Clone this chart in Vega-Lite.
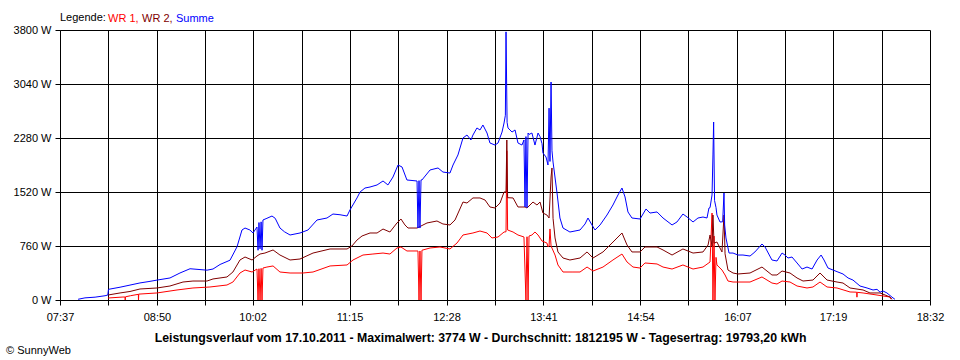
{
  "$schema": "https://vega.github.io/schema/vega-lite/v6.json",
  "width": 870,
  "height": 270,
  "autosize": "none",
  "padding": {"left": 60, "top": 30, "right": 30, "bottom": 60},
  "background": "white",
  "title": {
    "text": "© SunnyWeb",
    "orient": "bottom",
    "anchor": "start",
    "frame": "bounds",
    "font": "Liberation Sans",
    "fontSize": 11,
    "fontWeight": "normal",
    "color": "black",
    "offset": 2,
    "dx": -7
  },
  "datasets": {
    "wr1": [
      {"t":493.1,"p":28},{"t":504.4,"p":42},{"t":506.0,"p":42},{"t":506.1,"p":0},{"t":506.3,"p":45},{"t":510,"p":60},{"t":516.0,"p":80},{"t":516.1,"p":0},{"t":516.3,"p":84},{"t":517.2,"p":84},{"t":530,"p":99},{"t":545.1,"p":141},{"t":557.1,"p":169},{"t":569.9,"p":183},{"t":582.7,"p":211},{"t":587.2,"p":253},{"t":592.5,"p":380},{"t":596.3,"p":422},{"t":601.6,"p":394},{"t":605.3,"p":436},{"t":606.1,"p":0},{"t":606.8,"p":440},{"t":607.6,"p":0},{"t":608.4,"p":445},{"t":609.1,"p":0},{"t":609.8,"p":450},{"t":612.8,"p":464},{"t":617.4,"p":479},{"t":622.6,"p":394},{"t":630.2,"p":380},{"t":639.9,"p":380},{"t":647.5,"p":394},{"t":660.3,"p":479},{"t":673.1,"p":493},{"t":677.6,"p":563},{"t":685.1,"p":633},{"t":692.6,"p":647},{"t":700.2,"p":661},{"t":705.4,"p":647},{"t":710.7,"p":732},{"t":713.7,"p":746},{"t":718.2,"p":690},{"t":726.5,"p":690},{"t":727.3,"p":0},{"t":728.0,"p":690},{"t":728.8,"p":0},{"t":729.5,"p":700},{"t":735.6,"p":732},{"t":743.1,"p":746},{"t":750.6,"p":718},{"t":755.9,"p":802},{"t":760.4,"p":915},{"t":767.9,"p":943},{"t":773.2,"p":971},{"t":778.5,"p":943},{"t":782.2,"p":873},{"t":786.8,"p":887},{"t":791.3,"p":957},{"t":792.8,"p":960},{"t":793.4,"p":2100},{"t":794.0,"p":985},{"t":798.1,"p":957},{"t":801.8,"p":915},{"t":806.3,"p":887},{"t":807.8,"p":0},{"t":808.6,"p":890},{"t":809.4,"p":0},{"t":810.1,"p":900},{"t":812.3,"p":915},{"t":814.6,"p":957},{"t":816.9,"p":915},{"t":819.9,"p":830},{"t":823.6,"p":802},{"t":824.4,"p":750},{"t":825.2,"p":760},{"t":825.9,"p":1000},{"t":826.7,"p":760},{"t":829.7,"p":633},{"t":831.9,"p":493},{"t":835.7,"p":394},{"t":843.2,"p":394},{"t":848.5,"p":394},{"t":853.8,"p":464},{"t":858.3,"p":408},{"t":865.8,"p":464},{"t":873.3,"p":563},{"t":880.1,"p":647},{"t":883.9,"p":535},{"t":888.4,"p":464},{"t":893.7,"p":450},{"t":897.4,"p":521},{"t":906.5,"p":507},{"t":911.0,"p":464},{"t":917.8,"p":436},{"t":926.0,"p":493},{"t":933.6,"p":436},{"t":941.1,"p":464},{"t":946.4,"p":535},{"t":947.9,"p":1224},{"t":948.6,"p":0},{"t":949.4,"p":900},{"t":950.1,"p":0},{"t":950.9,"p":600},{"t":951.6,"p":493},{"t":955.4,"p":422},{"t":957.7,"p":352},{"t":959.9,"p":267},{"t":963.7,"p":253},{"t":967.4,"p":253},{"t":976.5,"p":253},{"t":985.5,"p":324},{"t":993.0,"p":239},{"t":996.8,"p":225},{"t":1000.6,"p":267},{"t":1006.6,"p":253},{"t":1011.9,"p":197},{"t":1019.4,"p":169},{"t":1023.9,"p":183},{"t":1029.2,"p":253},{"t":1034.5,"p":183},{"t":1042.0,"p":169},{"t":1051.8,"p":113},{"t":1056.8,"p":110},{"t":1057.0,"p":40},{"t":1057.2,"p":108},{"t":1061.6,"p":99},{"t":1072.1,"p":70},{"t":1081.9,"p":42},{"t":1082.7,"p":10}
    ],
    "wr2": [
      {"t":493.1,"p":70},{"t":502.2,"p":99},{"t":509.7,"p":120},{"t":517.2,"p":155},{"t":530.0,"p":169},{"t":539.8,"p":197},{"t":549.6,"p":253},{"t":557.1,"p":267},{"t":567.7,"p":267},{"t":572.2,"p":296},{"t":582.7,"p":324},{"t":587.2,"p":394},{"t":592.5,"p":563},{"t":596.3,"p":605},{"t":601.6,"p":563},{"t":605.3,"p":619},{"t":607.6,"p":647},{"t":611.3,"p":661},{"t":617.4,"p":704},{"t":622.6,"p":633},{"t":630.2,"p":563},{"t":637.7,"p":577},{"t":647.5,"p":661},{"t":660.3,"p":718},{"t":673.1,"p":718},{"t":676.8,"p":760},{"t":680.6,"p":844},{"t":684.4,"p":901},{"t":690.4,"p":943},{"t":695.7,"p":943},{"t":700.2,"p":999},{"t":705.4,"p":957},{"t":710.7,"p":1084},{"t":713.7,"p":1140},{"t":716.7,"p":1056},{"t":719.0,"p":1013},{"t":725.8,"p":1013},{"t":733.3,"p":1084},{"t":740.8,"p":1112},{"t":745.3,"p":1070},{"t":750.6,"p":1056},{"t":754.4,"p":1126},{"t":760.4,"p":1379},{"t":763.4,"p":1365},{"t":767.9,"p":1436},{"t":773.2,"p":1436},{"t":777.0,"p":1407},{"t":780.7,"p":1309},{"t":784.5,"p":1295},{"t":788.3,"p":1365},{"t":791.3,"p":1520},{"t":792.8,"p":1520},{"t":793.4,"p":2252},{"t":794.0,"p":1440},{"t":798.1,"p":1436},{"t":801.8,"p":1309},{"t":807.1,"p":1309},{"t":808.6,"p":1295},{"t":813.1,"p":1379},{"t":816.1,"p":1337},{"t":818.4,"p":1379},{"t":820.6,"p":1224},{"t":823.6,"p":1196},{"t":825.2,"p":1154},{"t":826.7,"p":1731},{"t":827.4,"p":1858},{"t":828.2,"p":1150},{"t":829.7,"p":873},{"t":831.9,"p":676},{"t":835.7,"p":591},{"t":840.9,"p":563},{"t":848.5,"p":591},{"t":853.8,"p":676},{"t":858.3,"p":591},{"t":865.8,"p":676},{"t":872.6,"p":802},{"t":880.1,"p":943},{"t":883.9,"p":774},{"t":887.6,"p":676},{"t":893.7,"p":676},{"t":897.4,"p":746},{"t":906.5,"p":746},{"t":911.0,"p":704},{"t":917.8,"p":633},{"t":926.0,"p":718},{"t":933.6,"p":661},{"t":941.1,"p":676},{"t":944.9,"p":774},{"t":946.4,"p":915},{"t":947.9,"p":760},{"t":948.6,"p":1196},{"t":949.4,"p":800},{"t":951.6,"p":816},{"t":955.4,"p":676},{"t":956.9,"p":1196},{"t":957.7,"p":650},{"t":959.9,"p":422},{"t":963.7,"p":380},{"t":967.4,"p":366},{"t":976.5,"p":380},{"t":985.5,"p":464},{"t":993.0,"p":352},{"t":996.8,"p":352},{"t":1000.6,"p":408},{"t":1006.6,"p":380},{"t":1011.9,"p":310},{"t":1016.4,"p":267},{"t":1023.9,"p":281},{"t":1029.2,"p":380},{"t":1034.5,"p":281},{"t":1042.0,"p":253},{"t":1046.5,"p":239},{"t":1051.8,"p":169},{"t":1061.6,"p":141},{"t":1066.8,"p":99},{"t":1074.4,"p":99},{"t":1081.9,"p":42},{"t":1083.4,"p":10}
    ],
    "summe": [
      {"t":470.6,"p":10},{"t":475.8,"p":30},{"t":483.4,"p":40},{"t":490.9,"p":60},{"t":493.0,"p":70},{"t":493.5,"p":150},{"t":502.2,"p":180},{"t":509.7,"p":210},{"t":517.2,"p":240},{"t":524,"p":260},{"t":530,"p":280},{"t":539.8,"p":310},{"t":547.3,"p":380},{"t":554.9,"p":440},{"t":567.7,"p":420},{"t":572.2,"p":436},{"t":577.5,"p":500},{"t":585,"p":560},{"t":590.3,"p":750},{"t":594,"p":985},{"t":596.3,"p":1013},{"t":600,"p":985},{"t":602.3,"p":943},{"t":605.3,"p":1027},{"t":606.1,"p":700},{"t":606.8,"p":1090},{"t":607.6,"p":720},{"t":608.4,"p":1100},{"t":609.1,"p":700},{"t":609.8,"p":1126},{"t":612.8,"p":1150},{"t":616.6,"p":1182},{"t":619,"p":1150},{"t":622.6,"p":1013},{"t":626,"p":960},{"t":630.2,"p":915},{"t":637.7,"p":943},{"t":643.7,"p":985},{"t":650.5,"p":1126},{"t":658,"p":1154},{"t":662.5,"p":1210},{"t":667.8,"p":1200},{"t":673.1,"p":1182},{"t":675.3,"p":1267},{"t":680.6,"p":1436},{"t":682.9,"p":1520},{"t":686.6,"p":1576},{"t":690.4,"p":1590},{"t":695.7,"p":1619},{"t":700.2,"p":1675},{"t":703.9,"p":1619},{"t":707.7,"p":1731},{"t":711.5,"p":1900},{"t":714.5,"p":1872},{"t":718.2,"p":1689},{"t":725.8,"p":1675},{"t":726.5,"p":1013},{"t":727.3,"p":1680},{"t":728,"p":1013},{"t":728.8,"p":1690},{"t":729.5,"p":1689},{"t":735.6,"p":1830},{"t":741.6,"p":1858},{"t":745.3,"p":1801},{"t":750.6,"p":1787},{"t":752.9,"p":1900},{"t":756.6,"p":2041},{"t":760.4,"p":2280},{"t":763.4,"p":2322},{"t":766.4,"p":2252},{"t":767.9,"p":2322},{"t":770.9,"p":2421},{"t":773.2,"p":2393},{"t":775.4,"p":2463},{"t":778.5,"p":2350},{"t":780.7,"p":2210},{"t":784.5,"p":2181},{"t":786.8,"p":2210},{"t":789.8,"p":2364},{"t":791.3,"p":2491},{"t":792.3,"p":2600},{"t":792.8,"p":3774},{"t":793.6,"p":2500},{"t":794.3,"p":2421},{"t":797.3,"p":2364},{"t":799.6,"p":2393},{"t":801.8,"p":2210},{"t":804.8,"p":2181},{"t":806.3,"p":2252},{"t":807.1,"p":1309},{"t":807.8,"p":2300},{"t":808.6,"p":1300},{"t":809.4,"p":2350},{"t":810.1,"p":2330},{"t":812.3,"p":2350},{"t":814.6,"p":2181},{"t":816.9,"p":2350},{"t":818.4,"p":2300},{"t":819.9,"p":2200},{"t":820.6,"p":2069},{"t":822.9,"p":2013},{"t":824.4,"p":1900},{"t":825.2,"p":2700},{"t":825.9,"p":1950},{"t":826.7,"p":3068},{"t":827.4,"p":2100},{"t":828.2,"p":1942},{"t":831.2,"p":1506},{"t":833.4,"p":1154},{"t":835.7,"p":1013},{"t":840.9,"p":957},{"t":848.5,"p":985},{"t":852.3,"p":1070},{"t":854.5,"p":1154},{"t":857.5,"p":1056},{"t":859.8,"p":985},{"t":863.6,"p":1056},{"t":868.8,"p":1196},{"t":873.3,"p":1337},{"t":877.1,"p":1478},{"t":880.1,"p":1576},{"t":882.4,"p":1450},{"t":884.6,"p":1239},{"t":887.6,"p":1154},{"t":893.7,"p":1140},{"t":898.2,"p":1281},{"t":901.2,"p":1224},{"t":906.5,"p":1239},{"t":911,"p":1154},{"t":917.8,"p":1056},{"t":921.5,"p":1098},{"t":926,"p":1210},{"t":929.1,"p":1168},{"t":933.6,"p":1098},{"t":937.3,"p":1154},{"t":941.1,"p":1168},{"t":944.1,"p":1154},{"t":945.6,"p":1295},{"t":946.4,"p":1300},{"t":947.9,"p":1478},{"t":948.6,"p":2041},{"t":949.1,"p":2505},{"t":949.8,"p":1400},{"t":950.9,"p":1300},{"t":951.6,"p":1196},{"t":953.9,"p":1098},{"t":955.9,"p":1100},{"t":956.9,"p":1506},{"t":957.4,"p":1056},{"t":958.4,"p":873},{"t":960.7,"p":661},{"t":963.7,"p":661},{"t":967.4,"p":633},{"t":971.2,"p":633},{"t":976.5,"p":619},{"t":980.2,"p":676},{"t":985.5,"p":788},{"t":987.8,"p":746},{"t":993,"p":563},{"t":996.8,"p":549},{"t":1000.6,"p":661},{"t":1002.8,"p":633},{"t":1005.1,"p":591},{"t":1008.1,"p":605},{"t":1011.9,"p":521},{"t":1015.7,"p":436},{"t":1019.4,"p":464},{"t":1023.2,"p":436},{"t":1027,"p":563},{"t":1030,"p":633},{"t":1032.2,"p":563},{"t":1035.2,"p":450},{"t":1039,"p":422},{"t":1042.7,"p":394},{"t":1046.5,"p":366},{"t":1050.3,"p":310},{"t":1054,"p":281},{"t":1059.3,"p":197},{"t":1064.6,"p":169},{"t":1069.1,"p":141},{"t":1072.1,"p":150},{"t":1074.4,"p":110},{"t":1076.6,"p":127},{"t":1079.6,"p":99},{"t":1083.4,"p":40},{"t":1085.6,"p":10}
    ]
  },
  "encoding": {
    "x": {
      "field": "t",
      "type": "quantitative",
      "scale": {"domain": [457, 1112], "nice": false, "zero": false},
      "axis": {
        "values": [457, 493.39, 530, 566.17, 602, 638.94, 675, 711.72, 748, 784.5, 821, 857.28, 894, 930.06, 967, 1002.83, 1039, 1075.61, 1112],
        "labelExpr": "datum.value % 1 != 0 ? '' : (floor(datum.value/60) < 10 ? '0' : '') + floor(datum.value/60) + ':' + (datum.value % 60 < 10 ? '0' : '') + (datum.value % 60)",
        "title": "Leistungsverlauf vom 17.10.2011 - Maximalwert: 3774 W - Durchschnitt: 1812195 W - Tagesertrag: 19793,20 kWh",
        "titleX": 420,
        "titleY": 37,
        "titleAlign": "center",
        "titleBaseline": "middle",
        "titleFontWeight": "bold",
        "titleFontSize": 12.3,
        "labelPadding": 6,
        "labelFlush": false,
        "labelOverlap": false
      }
    },
    "y": {
      "field": "p",
      "type": "quantitative",
      "scale": {"domain": [0, 3800], "nice": false},
      "axis": {
        "values": [0, 760, 1520, 2280, 3040, 3800],
        "labelExpr": "datum.value + ' W'",
        "title": null,
        "labelPadding": 4
      }
    }
  },
  "layer": [
    {
      "data": {"name": "wr1"},
      "mark": {"type": "line", "strokeWidth": 1, "clip": true},
      "encoding": {
        "color": {
          "datum": "WR 1",
          "type": "nominal",
          "scale": {"domain": ["WR 1", "WR 2", "Summe"], "range": ["#ff0000", "#800000", "#0000ff"]},
          "legend": {
            "title": "Legende:",
            "orient": "none",
            "legendX": 0,
            "legendY": -17,
            "direction": "horizontal",
            "titleOrient": "left",
            "titlePadding": 3,
            "symbolSize": 0,
            "symbolStrokeWidth": 0,
            "symbolOpacity": 0,
            "labelOffset": -12,
            "columnPadding": 3,
            "labelExpr": "datum.label == 'Summe' ? datum.label : datum.label + ','",
            "encode": {"labels": {"update": {"fill": {"scale": "color", "field": "value"}}}}
          }
        }
      }
    },
    {
      "data": {"name": "wr2"},
      "mark": {"type": "line", "strokeWidth": 1, "clip": true},
      "encoding": {"color": {"datum": "WR 2", "type": "nominal"}}
    },
    {
      "data": {"name": "summe"},
      "mark": {"type": "line", "strokeWidth": 1, "clip": true},
      "encoding": {"color": {"datum": "Summe", "type": "nominal"}}
    }
  ],
  "config": {
    "font": "Liberation Sans",
    "view": {"stroke": null},
    "axis": {
      "domainColor": "black",
      "domainWidth": 1,
      "gridColor": "black",
      "gridOpacity": 1,
      "gridWidth": 1,
      "grid": true,
      "tickColor": "black",
      "tickSize": 5,
      "tickWidth": 1,
      "labelColor": "black",
      "labelFont": "Liberation Sans",
      "labelFontSize": 11,
      "titleFont": "Liberation Sans",
      "titleFontSize": 11,
      "titleColor": "black"
    },
    "legend": {
      "titleFont": "Liberation Sans",
      "titleFontSize": 11,
      "titleFontWeight": "normal",
      "titleColor": "black",
      "labelFont": "Liberation Sans",
      "labelFontSize": 11
    }
  }
}
